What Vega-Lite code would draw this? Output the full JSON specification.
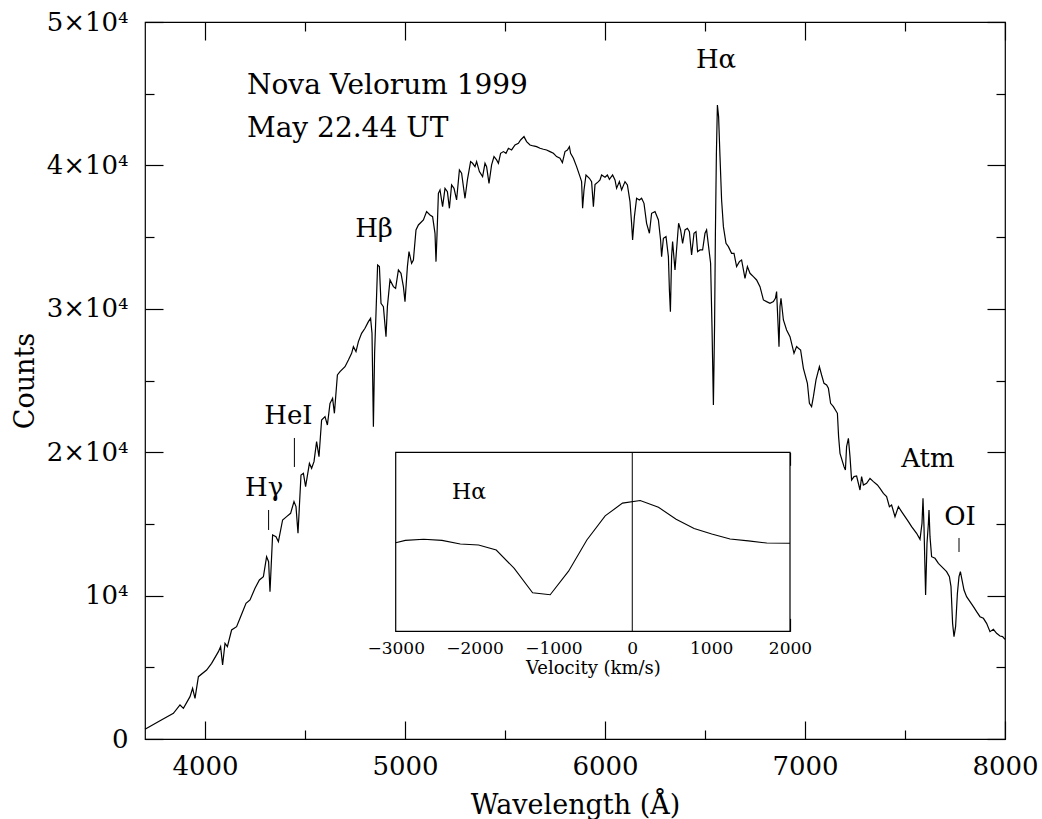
{
  "$schema": "https://vega.github.io/schema/vega-lite/v6.json",
  "width": 860,
  "height": 717,
  "autosize": "none",
  "padding": {"left": 145, "top": 22, "right": 37, "bottom": 80},
  "background": "white",
  "config": {
    "font": "DejaVu Serif",
    "view": {"stroke": "black", "strokeWidth": 1.2},
    "axis": {"domain": false, "grid": false, "tickColor": "black", "tickWidth": 1.2, "labelColor": "black", "titleColor": "black", "titleFontWeight": "normal", "labelFlush": false, "labelOverlap": false}
  },
  "datasets": {
    "spectrum": [
      {"wl":3700,"c":674},{"wl":3775,"c":1279},{"wl":3842,"c":1790},{"wl":3875,"c":2371},{"wl":3892,"c":2139},{"wl":3925,"c":2952},{"wl":3938,"c":3533},{"wl":3950,"c":2836},{"wl":3967,"c":4347},{"wl":4008,"c":4812},{"wl":4033,"c":5277},{"wl":4067,"c":6091},{"wl":4078,"c":6440},{"wl":4088,"c":5161},{"wl":4100,"c":6672},{"wl":4112,"c":6440},{"wl":4133,"c":7602},{"wl":4158,"c":7834},{"wl":4175,"c":8415},{"wl":4205,"c":9462},{"wl":4225,"c":9694},{"wl":4250,"c":10507},{"wl":4272,"c":11089},{"wl":4292,"c":11322},{"wl":4308,"c":12715},{"wl":4318,"c":12366},{"wl":4325,"c":10275},{"wl":4338,"c":14227},{"wl":4355,"c":14111},{"wl":4367,"c":13762},{"wl":4388,"c":15273},{"wl":4408,"c":15506},{"wl":4428,"c":15738},{"wl":4445,"c":16552},{"wl":4455,"c":16203},{"wl":4465,"c":14343},{"wl":4480,"c":18411},{"wl":4492,"c":18528},{"wl":4503,"c":17598},{"wl":4522,"c":19225},{"wl":4533,"c":18876},{"wl":4545,"c":19342},{"wl":4558,"c":20736},{"wl":4570,"c":19690},{"wl":4583,"c":22247},{"wl":4600,"c":22480},{"wl":4612,"c":21899},{"wl":4625,"c":23400},{"wl":4638,"c":23758},{"wl":4647,"c":22712},{"wl":4662,"c":25385},{"wl":4675,"c":25617},{"wl":4700,"c":25966},{"wl":4717,"c":26431},{"wl":4733,"c":26896},{"wl":4742,"c":27362},{"wl":4755,"c":27013},{"wl":4767,"c":27711},{"wl":4783,"c":28292},{"wl":4800,"c":28641},{"wl":4817,"c":29105},{"wl":4828,"c":29337},{"wl":4835,"c":28292},{"wl":4842,"c":21782},{"wl":4848,"c":26896},{"wl":4855,"c":29686},{"wl":4863,"c":33057},{"wl":4872,"c":32941},{"wl":4880,"c":30384},{"wl":4892,"c":30152},{"wl":4905,"c":28059},{"wl":4912,"c":30152},{"wl":4925,"c":32011},{"wl":4942,"c":31546},{"wl":4953,"c":31430},{"wl":4967,"c":32708},{"wl":4980,"c":32476},{"wl":4992,"c":31546},{"wl":5000,"c":30500},{"wl":5012,"c":32941},{"wl":5020,"c":33987},{"wl":5033,"c":33173},{"wl":5042,"c":33405},{"wl":5055,"c":35498},{"wl":5067,"c":35846},{"wl":5092,"c":36195},{"wl":5108,"c":36776},{"wl":5125,"c":36544},{"wl":5138,"c":36428},{"wl":5150,"c":35265},{"wl":5155,"c":33289},{"wl":5160,"c":35149},{"wl":5167,"c":38054},{"wl":5175,"c":38287},{"wl":5188,"c":37124},{"wl":5200,"c":38403},{"wl":5212,"c":38170},{"wl":5222,"c":37008},{"wl":5233,"c":38636},{"wl":5245,"c":38403},{"wl":5258,"c":37590},{"wl":5272,"c":39682},{"wl":5283,"c":39450},{"wl":5300,"c":37706},{"wl":5312,"c":38985},{"wl":5328,"c":40264},{"wl":5338,"c":40148},{"wl":5350,"c":39915},{"wl":5358,"c":40264},{"wl":5372,"c":39566},{"wl":5388,"c":39217},{"wl":5400,"c":40148},{"wl":5408,"c":39915},{"wl":5420,"c":38752},{"wl":5433,"c":40031},{"wl":5445,"c":40613},{"wl":5458,"c":40380},{"wl":5467,"c":40148},{"wl":5478,"c":40845},{"wl":5492,"c":40962},{"wl":5505,"c":40845},{"wl":5517,"c":41194},{"wl":5533,"c":41077},{"wl":5550,"c":41426},{"wl":5567,"c":41542},{"wl":5578,"c":41774},{"wl":5595,"c":42007},{"wl":5608,"c":41658},{"wl":5625,"c":41426},{"wl":5642,"c":41356},{"wl":5658,"c":41309},{"wl":5675,"c":41194},{"wl":5692,"c":41124},{"wl":5708,"c":41077},{"wl":5725,"c":40962},{"wl":5742,"c":40845},{"wl":5758,"c":40613},{"wl":5775,"c":40497},{"wl":5787,"c":40194},{"wl":5800,"c":40962},{"wl":5812,"c":41077},{"wl":5822,"c":41309},{"wl":5828,"c":40845},{"wl":5842,"c":40497},{"wl":5858,"c":39915},{"wl":5875,"c":39217},{"wl":5883,"c":38868},{"wl":5888,"c":37008},{"wl":5895,"c":38287},{"wl":5905,"c":39333},{"wl":5922,"c":39101},{"wl":5933,"c":38868},{"wl":5942,"c":37124},{"wl":5950,"c":38659},{"wl":5967,"c":38868},{"wl":5975,"c":38985},{"wl":5983,"c":39333},{"wl":6000,"c":39170},{"wl":6012,"c":39333},{"wl":6022,"c":39031},{"wl":6038,"c":39333},{"wl":6050,"c":38985},{"wl":6058,"c":38403},{"wl":6072,"c":38868},{"wl":6083,"c":38287},{"wl":6100,"c":38868},{"wl":6112,"c":38636},{"wl":6125,"c":37473},{"wl":6133,"c":35963},{"wl":6138,"c":34800},{"wl":6147,"c":36428},{"wl":6158,"c":37706},{"wl":6172,"c":37590},{"wl":6183,"c":37706},{"wl":6195,"c":37357},{"wl":6208,"c":35963},{"wl":6222,"c":35265},{"wl":6233,"c":36661},{"wl":6250,"c":36776},{"wl":6267,"c":36195},{"wl":6278,"c":34800},{"wl":6283,"c":33638},{"wl":6292,"c":34917},{"wl":6305,"c":35033},{"wl":6317,"c":33638},{"wl":6322,"c":31313},{"wl":6327,"c":29803},{"wl":6333,"c":33638},{"wl":6338,"c":34684},{"wl":6350,"c":32708},{"wl":6368,"c":35963},{"wl":6378,"c":35498},{"wl":6388,"c":34568},{"wl":6400,"c":35498},{"wl":6412,"c":35614},{"wl":6422,"c":35382},{"wl":6433,"c":33754},{"wl":6445,"c":35265},{"wl":6455,"c":35382},{"wl":6463,"c":33987},{"wl":6475,"c":34103},{"wl":6488,"c":34103},{"wl":6500,"c":35265},{"wl":6508,"c":35498},{"wl":6518,"c":34335},{"wl":6528,"c":33173},{"wl":6535,"c":28757},{"wl":6542,"c":23294},{"wl":6548,"c":28989},{"wl":6552,"c":35265},{"wl":6557,"c":40845},{"wl":6562,"c":44215},{"wl":6568,"c":43401},{"wl":6575,"c":40613},{"wl":6583,"c":37590},{"wl":6592,"c":35730},{"wl":6605,"c":34568},{"wl":6617,"c":34335},{"wl":6633,"c":33870},{"wl":6645,"c":33870},{"wl":6658,"c":32941},{"wl":6672,"c":33289},{"wl":6683,"c":33405},{"wl":6700,"c":32127},{"wl":6712,"c":32941},{"wl":6725,"c":32476},{"wl":6742,"c":32244},{"wl":6758,"c":32011},{"wl":6775,"c":31546},{"wl":6792,"c":30617},{"wl":6808,"c":30500},{"wl":6825,"c":30384},{"wl":6842,"c":30500},{"wl":6852,"c":30733},{"wl":6858,"c":31197},{"wl":6865,"c":28989},{"wl":6870,"c":27362},{"wl":6875,"c":30152},{"wl":6880,"c":30733},{"wl":6892,"c":29221},{"wl":6908,"c":28525},{"wl":6925,"c":28059},{"wl":6945,"c":26896},{"wl":6958,"c":27362},{"wl":6967,"c":27246},{"wl":6978,"c":27129},{"wl":6992,"c":25851},{"wl":7012,"c":24805},{"wl":7022,"c":23409},{"wl":7033,"c":23177},{"wl":7042,"c":23874},{"wl":7055,"c":25037},{"wl":7072,"c":25966},{"wl":7083,"c":25385},{"wl":7095,"c":24805},{"wl":7108,"c":24688},{"wl":7117,"c":24456},{"wl":7128,"c":23409},{"wl":7142,"c":23177},{"wl":7162,"c":22712},{"wl":7168,"c":21085},{"wl":7175,"c":19922},{"wl":7195,"c":18992},{"wl":7202,"c":18760},{"wl":7208,"c":20387},{"wl":7217,"c":20968},{"wl":7225,"c":19690},{"wl":7233,"c":18063},{"wl":7245,"c":18295},{"wl":7258,"c":18341},{"wl":7275,"c":17365},{"wl":7283,"c":18295},{"wl":7292,"c":17714},{"wl":7308,"c":17830},{"wl":7325,"c":18179},{"wl":7342,"c":17946},{"wl":7362,"c":17714},{"wl":7375,"c":17481},{"wl":7392,"c":17132},{"wl":7408,"c":16900},{"wl":7422,"c":16203},{"wl":7433,"c":16319},{"wl":7450,"c":15505},{"wl":7467,"c":16203},{"wl":7483,"c":15854},{"wl":7500,"c":15505},{"wl":7517,"c":15156},{"wl":7533,"c":14808},{"wl":7558,"c":14343},{"wl":7575,"c":13925},{"wl":7585,"c":15040},{"wl":7590,"c":16784},{"wl":7595,"c":14808},{"wl":7603,"c":10043},{"wl":7610,"c":13646},{"wl":7617,"c":15040},{"wl":7620,"c":15970},{"wl":7625,"c":14111},{"wl":7633,"c":12715},{"wl":7650,"c":12599},{"wl":7667,"c":12250},{"wl":7692,"c":11901},{"wl":7708,"c":11669},{"wl":7722,"c":11320},{"wl":7730,"c":10623},{"wl":7738,"c":8066},{"wl":7745,"c":7137},{"wl":7753,"c":7834},{"wl":7762,"c":10158},{"wl":7770,"c":11320},{"wl":7777,"c":11669},{"wl":7785,"c":11089},{"wl":7795,"c":10391},{"wl":7808,"c":9927},{"wl":7825,"c":9578},{"wl":7842,"c":9229},{"wl":7858,"c":8880},{"wl":7875,"c":8531},{"wl":7892,"c":8415},{"wl":7908,"c":8066},{"wl":7925,"c":7485},{"wl":7942,"c":7648},{"wl":7958,"c":7369},{"wl":7975,"c":7183},{"wl":7988,"c":7137},{"wl":8000,"c":6951}
    ],
    "lineLabels": [
      {"wl":6555,"c":46795,"t":"Hα"},
      {"wl":4845,"c":34990,"t":"Hβ"},
      {"wl":4417,"c":21968,"t":"HeI"},
      {"wl":4296,"c":16947,"t":"Hγ"},
      {"wl":7615,"c":18948,"t":"Atm"},
      {"wl":7775,"c":14924,"t":"OI"}
    ],
    "header": [
      {"wl":4210,"c":44982,"t":"Nova Velorum 1999"},
      {"wl":4210,"c":41985,"t":"May 22.44 UT"}
    ],
    "lineMarks": [
      {"wl":4447,"c1":18970,"c2":20992},
      {"wl":4318,"c1":14576,"c2":15970},
      {"wl":7770,"c1":13041,"c2":14018}
    ],
    "insetFrame": [{"v1":-3000,"v2":2000,"r1":0,"r2":100}],
    "insetZero": [{"v":0,"r1":0,"r2":100}],
    "insetLabel": [{"v":-2286,"r":73.9,"t":"Hα"}],
    "halpha": [
      {"v":-3000,"r":49.5},{"v":-2878,"r":50.8},{"v":-2645,"r":51.4},{"v":-2413,"r":50.8},{"v":-2181,"r":48.8},{"v":-1949,"r":48.2},{"v":-1725,"r":45.4},{"v":-1497,"r":35.1},{"v":-1264,"r":21.5},{"v":-1041,"r":20.4},{"v":-808,"r":33.6},{"v":-576,"r":51.0},{"v":-344,"r":64.5},{"v":-124,"r":71.6},{"v":100,"r":73.1},{"v":332,"r":69.3},{"v":556,"r":62.6},{"v":784,"r":57.4},{"v":1008,"r":54.4},{"v":1240,"r":51.6},{"v":1472,"r":50.5},{"v":1705,"r":49.3},{"v":2000,"r":49.2}
    ]
  },
  "layer": [
    {
      "data": {"name": "spectrum"},
      "mark": {"type": "line", "color": "black", "strokeWidth": 1.2},
      "encoding": {
        "x": {"field": "wl", "type": "quantitative", "scale": {"domain": [3700, 8000], "nice": false, "zero": false},
          "axis": {"orient": "bottom", "values": [4000,4500,5000,5500,6000,6500,7000,7500,8000],
            "tickSize": {"condition": {"test": "datum.value % 1000 === 0", "value": -18}, "value": -9},
            "format": "d", "labelExpr": "datum.value % 1000 === 0 ? datum.label : ''",
            "labelFontSize": 26, "labelPadding": 53, "labelBaseline": "alphabetic",
            "title": "Wavelength (Å)", "titleFontSize": 27, "titleY": 74, "titleX": 430, "titleBaseline": "alphabetic", "titleAlign": "center"}},
        "y": {"field": "c", "type": "quantitative", "scale": {"domain": [0, 50000], "nice": false, "zero": false},
          "axis": {"orient": "left", "values": [0,5000,10000,15000,20000,25000,30000,35000,40000,45000,50000],
            "tickSize": {"condition": {"test": "datum.value % 10000 === 0", "value": -18}, "value": -9},
            "labelExpr": "datum.value === 0 ? '0' : datum.value === 10000 ? '10⁴' : datum.value % 10000 === 0 ? (datum.value / 10000) + '×10⁴' : ''",
            "labelFontSize": 26, "labelPadding": 35, "labelBaseline": "middle", "labelAlign": "right",
            "title": "Counts", "titleFontSize": 27, "titleAngle": -90, "titleX": -112, "titleY": 358.5, "titleBaseline": "alphabetic", "titleAlign": "center"}}
      }
    },
    {
      "data": {"name": "lineLabels"},
      "mark": {"type": "text", "fontSize": 26, "color": "black", "align": "center", "baseline": "alphabetic"},
      "encoding": {
        "x": {"field": "wl", "type": "quantitative", "scale": {"domain": [3700, 8000], "nice": false, "zero": false},
          "axis": {"orient": "top", "values": [4000,4500,5000,5500,6000,6500,7000,7500,8000],
            "tickSize": {"condition": {"test": "datum.value % 1000 === 0", "value": -18}, "value": -9},
            "labels": false, "title": null}},
        "y": {"field": "c", "type": "quantitative", "scale": {"domain": [0, 50000], "nice": false, "zero": false},
          "axis": {"orient": "right", "values": [0,5000,10000,15000,20000,25000,30000,35000,40000,45000,50000],
            "tickSize": {"condition": {"test": "datum.value % 10000 === 0", "value": -18}, "value": -9},
            "labels": false, "title": null}},
        "text": {"field": "t"}
      }
    },
    {
      "data": {"name": "header"},
      "mark": {"type": "text", "fontSize": 28, "color": "black", "align": "left", "baseline": "alphabetic"},
      "encoding": {
        "x": {"field": "wl", "type": "quantitative", "scale": {"domain": [3700, 8000], "nice": false, "zero": false}, "axis": null},
        "y": {"field": "c", "type": "quantitative", "scale": {"domain": [0, 50000], "nice": false, "zero": false}, "axis": null},
        "text": {"field": "t"}
      }
    },
    {
      "data": {"name": "lineMarks"},
      "mark": {"type": "rule", "color": "black", "strokeWidth": 1},
      "encoding": {
        "x": {"field": "wl", "type": "quantitative", "scale": {"domain": [3700, 8000], "nice": false, "zero": false}, "axis": null},
        "y": {"field": "c1", "type": "quantitative", "scale": {"domain": [0, 50000], "nice": false, "zero": false}, "axis": null},
        "y2": {"field": "c2"}
      }
    },
    {
      "data": {"name": "insetFrame"},
      "mark": {"type": "rect", "fill": "white", "stroke": "black", "strokeWidth": 1.2},
      "encoding": {
        "x": {"field": "v1", "type": "quantitative", "scale": {"domain": [-6179.1, 4726.4], "nice": false, "zero": false},
          "axis": {"orient": "bottom", "offset": -107.7, "values": [-3000,-2500,-2000,-1500,-1000,-500,0,500,1000,1500,2000],
            "tickSize": {"condition": {"test": "datum.value % 1000 === 0", "value": -13}, "value": -6.5},
            "format": "d", "labelExpr": "datum.value % 1000 === 0 ? datum.label : ''",
            "labelFontSize": 17, "labelPadding": 35, "labelBaseline": "alphabetic",
            "title": "Velocity (km/s)", "titleFontSize": 18, "titleY": 42, "titleX": 447.9, "titleBaseline": "alphabetic", "titleAlign": "center"}},
        "x2": {"field": "v2"},
        "y": {"field": "r1", "type": "quantitative", "scale": {"domain": [-60.17, 340.4], "nice": false, "zero": false}, "axis": null},
        "y2": {"field": "r2"}
      }
    },
    {
      "data": {"name": "halpha"},
      "mark": {"type": "line", "color": "black", "strokeWidth": 1.1},
      "encoding": {
        "x": {"field": "v", "type": "quantitative", "scale": {"domain": [-6179.1, 4726.4], "nice": false, "zero": false},
          "axis": {"orient": "top", "offset": -430.3, "values": [-3000,-2500,-2000,-1500,-1000,-500,0,500,1000,1500,2000],
            "tickSize": {"condition": {"test": "datum.value % 1000 === 0", "value": -13}, "value": -6.5},
            "labels": false, "title": null}},
        "y": {"field": "r", "type": "quantitative", "scale": {"domain": [-60.17, 340.4], "nice": false, "zero": false}, "axis": null}
      }
    },
    {
      "data": {"name": "insetZero"},
      "mark": {"type": "rule", "color": "black", "strokeWidth": 1},
      "encoding": {
        "x": {"field": "v", "type": "quantitative", "scale": {"domain": [-6179.1, 4726.4], "nice": false, "zero": false}, "axis": null},
        "y": {"field": "r1", "type": "quantitative", "scale": {"domain": [-60.17, 340.4], "nice": false, "zero": false}, "axis": null},
        "y2": {"field": "r2"}
      }
    },
    {
      "data": {"name": "insetLabel"},
      "mark": {"type": "text", "fontSize": 22, "color": "black", "align": "left", "baseline": "alphabetic"},
      "encoding": {
        "x": {"field": "v", "type": "quantitative", "scale": {"domain": [-6179.1, 4726.4], "nice": false, "zero": false}, "axis": null},
        "y": {"field": "r", "type": "quantitative", "scale": {"domain": [-60.17, 340.4], "nice": false, "zero": false}, "axis": null},
        "text": {"field": "t"}
      }
    }
  ],
  "resolve": {"scale": {"x": "independent", "y": "independent"}, "axis": {"x": "independent", "y": "independent"}}
}
